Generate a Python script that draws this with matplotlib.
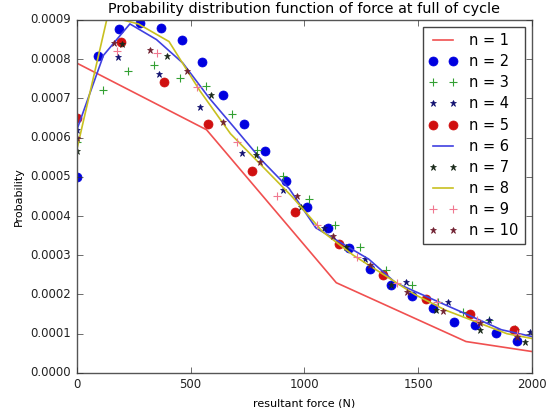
import numpy as np
import matplotlib
matplotlib.use('Agg')
from matplotlib import pyplot as plt
from matplotlib.ticker import FormatStrFormatter

plt.style.use('classic')

# n = 1 (red line)
x1 = [0, 570, 1140, 1710, 2280]
y1 = [0.00079, 0.00062, 0.00023, 0.00008, 0.00003]

# n = 2 (blue circles)
x2 = [0, 92, 184, 276, 368, 460, 552, 644, 736, 828, 920, 1012, 1104, 1196, 1288, 1380, 1472, 1564, 1656, 1748, 1840, 1932]
y2 = [0.0005, 0.000807, 0.000877, 0.000892, 0.000879, 0.00085, 0.000793, 0.000709, 0.000634, 0.000565, 0.00049,
      0.000424, 0.000369, 0.000318, 0.000264, 0.000225, 0.000197, 0.000165, 0.000131, 0.000122, 0.000101, 0.000082]

# n = 3 (green plus)
x3 = [0, 113, 226, 340, 453, 566, 680, 793, 906, 1019, 1133, 1246, 1359, 1472, 1586, 1699, 1812, 1925]
y3 = [0.00059, 0.000722, 0.000769, 0.000786, 0.000752, 0.000732, 0.00066, 0.000569, 0.000501, 0.000444, 0.000376,
      0.00032, 0.000263, 0.000225, 0.000182, 0.000156, 0.000135, 0.000112]

# n = 4 (navy stars)
x4 = [0, 181, 362, 543, 724, 905, 1086, 1267, 1448, 1629, 1810, 1991]
y4 = [0.00062, 0.000805, 0.000763, 0.000679, 0.00056, 0.000467, 0.00037, 0.00029, 0.000231, 0.00018, 0.000135, 0.000105]

# n = 5 (red circles)
x5 = [0, 192, 384, 576, 768, 960, 1152, 1344, 1536, 1728, 1920]
y5 = [0.00065, 0.000843, 0.000743, 0.000634, 0.000514, 0.00041, 0.000329, 0.00025, 0.000189, 0.000149, 0.00011]

# n = 6 (blue line)
x6 = [0, 117, 233, 350, 466, 583, 700, 816, 933, 1050, 1166, 1283, 1400, 1516, 1633, 1750, 1866, 1983, 2100]
y6 = [0.00062, 0.00081, 0.00089, 0.00085, 0.00079, 0.0007, 0.00062, 0.00054, 0.00047, 0.00037, 0.00033, 0.00029,
      0.00023, 0.0002, 0.00017, 0.00014, 0.00011, 0.000095, 0.00008]

# n = 7 (black stars)
x7 = [0, 197, 394, 591, 788, 985, 1182, 1379, 1576, 1773, 1970]
y7 = [0.000567, 0.00084, 0.000807, 0.000709, 0.000556, 0.000424, 0.00032, 0.000225, 0.000161, 0.00011, 0.000078]

# n = 8 (yellow line)
x8 = [0, 135, 270, 405, 540, 675, 810, 945, 1080, 1215, 1350, 1485, 1620, 1755, 1890, 2025]
y8 = [0.00057, 0.00091, 0.00089, 0.000845, 0.00072, 0.00061, 0.00053, 0.00045, 0.00036, 0.0003, 0.00025, 0.0002,
      0.00016, 0.00013, 0.0001, 0.000085]

# n = 9 (pink plus)
x9 = [0, 176, 352, 528, 704, 880, 1056, 1232, 1408, 1584, 1760, 1936]
y9 = [0.0006, 0.00082, 0.000815, 0.000729, 0.00059, 0.000452, 0.000377, 0.000296, 0.00023, 0.00018, 0.000135, 0.0001]

# n = 10 (dark red stars)
x10 = [0, 161, 322, 483, 644, 805, 966, 1127, 1288, 1449, 1610, 1771, 1932]
y10 = [0.0006, 0.000841, 0.000824, 0.000769, 0.000641, 0.000537, 0.000452, 0.00035, 0.000276, 0.000207, 0.000158,
       0.000127, 0.000091]

fig = plt.figure(figsize=(5.53, 4.08), dpi=100, facecolor='w')
ax = fig.add_axes([0.139, 0.086, 0.823, 0.865])

ax.plot(x1, y1, '-', color='#f05050', lw=1.2, label='n = 1')
ax.plot(x2, y2, 'o', color='#0000e0', mec='#0000e0', ms=6.5, label='n = 2')
ax.plot(x3, y3, '+', color='#33a033', mew=0.8, ms=6, label='n = 3')
ax.plot(x4, y4, '*', color='#101070', mec='#101070', ms=5, label='n = 4')
ax.plot(x5, y5, 'o', color='#d01010', mec='#d01010', ms=6.5, label='n = 5')
ax.plot(x6, y6, '-', color='#4040e0', lw=1.2, label='n = 6')
ax.plot(x7, y7, '*', color='#1a2a1a', mec='#1a2a1a', ms=5, label='n = 7')
ax.plot(x8, y8, '-', color='#c8c020', lw=1.2, label='n = 8')
ax.plot(x9, y9, '+', color='#f07890', mew=0.8, ms=6, label='n = 9')
ax.plot(x10, y10, '*', color='#702030', mec='#702030', ms=5, label='n = 10')

ax.set_xlim(0, 2000)
ax.set_ylim(0, 0.0009)
ax.set_xticks([0, 500, 1000, 1500, 2000])
ax.set_yticks(np.linspace(0, 0.0009, 10))
ax.yaxis.set_major_formatter(FormatStrFormatter('%.4f'))
ax.tick_params(labelsize=8.5, colors='#333333', labelcolor='#222222')
for sp in ax.spines.values():
    sp.set_color('#555555')

ax.set_title('Probability distribution function of force at full of cycle', fontsize=10.4)
ax.set_xlabel('resultant force (N)', fontsize=8)
ax.set_ylabel('Probability', fontsize=8)

leg = ax.legend(loc='upper right', numpoints=2, fontsize=10.5, fancybox=False, labelspacing=0.42)
leg.get_frame().set_edgecolor('#444444')

fig.savefig('out.png', dpi=100, facecolor='w')
